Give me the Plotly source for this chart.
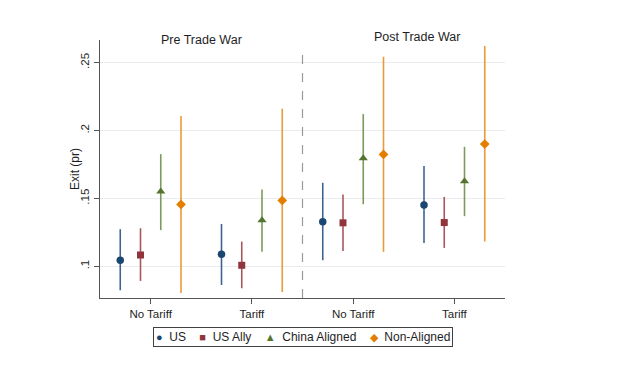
import plotly.graph_objects as go

categories = ["No Tariff", "Tariff", "No Tariff", "Tariff"]
group_pos = [1, 2, 3, 4]
series_names = ["US", "US Ally", "China Aligned", "Non-Aligned"]

# values per series across the 4 groups (Pre NoTariff, Pre Tariff, Post NoTariff, Post Tariff)
us_pt = [0.1044, 0.1088, 0.1327, 0.1452]
us_lo = [0.0823, 0.0862, 0.1044, 0.1172]
us_hi = [0.1273, 0.1312, 0.1615, 0.1738]

ally_pt = [0.1083, 0.1007, 0.1320, 0.1322]
ally_lo = [0.0892, 0.0838, 0.1113, 0.1135]
ally_hi = [0.1280, 0.1182, 0.1529, 0.1511]

china_pt = [0.1551, 0.1339, 0.1795, 0.1627]
china_lo = [0.1266, 0.1106, 0.1457, 0.1369]
china_hi = [0.1826, 0.1566, 0.2121, 0.1880]

nonal_pt = [0.1455, 0.1485, 0.1824, 0.1900]
nonal_lo = [0.0803, 0.0810, 0.1106, 0.1182]
nonal_hi = [0.2107, 0.2161, 0.2544, 0.2623]

offsets = [-0.3, -0.1, 0.1, 0.3]
marker_colors = ["#1a476f", "#90353b", "#55752f", "#e37e00"]
line_colors = ["#3d6491", "#a8575c", "#7c9a5c", "#eb9a3a"]
symbols = ["circle", "square", "triangle-up", "diamond"]
legend_glyphs = ["\u25CF", "\u25A0", "\u25B2", "\u25C6"]
sizes = [7.5, 7, 8, 7.5]

data = [(us_pt, us_lo, us_hi), (ally_pt, ally_lo, ally_hi),
        (china_pt, china_lo, china_hi), (nonal_pt, nonal_lo, nonal_hi)]

fig = go.Figure()
for i, (pt, lo, hi) in enumerate(data):
    xs = [g + offsets[i] for g in group_pos]
    fig.add_trace(go.Scatter(
        x=xs, y=pt, mode="markers", name=series_names[i], showlegend=False,
        marker=dict(symbol=symbols[i], size=sizes[i], color=marker_colors[i]),
        error_y=dict(type="data", symmetric=False,
                     array=[h - p for h, p in zip(hi, pt)],
                     arrayminus=[p - l for p, l in zip(pt, lo)],
                     width=0, thickness=1.6, color=line_colors[i]),
    ))

fig.add_shape(type="line", xref="x", yref="paper", x0=2.5, x1=2.5, y0=0, y1=0.96,
              line=dict(color="#9a9a9a", width=1.2, dash="dash"))

fig.add_annotation(text="Pre Trade War", xref="paper", yref="paper", x=0.25, y=1.0,
                   xanchor="center", yanchor="middle",
                   showarrow=False, font=dict(size=12.5, color="#1e1e1e"))
fig.add_annotation(text="Post Trade War", xref="paper", yref="paper", x=0.783, y=1.011,
                   xanchor="center", yanchor="middle",
                   showarrow=False, font=dict(size=12.5, color="#1e1e1e"))
fig.add_annotation(text="Exit (pr)", xref="paper", yref="paper", x=-0.0617, y=0.5,
                   xanchor="center", yanchor="middle", textangle=-90,
                   showarrow=False, font=dict(size=12, color="#1e1e1e"))

# legend built as a bordered text box
parts = []
for g, c, n in zip(legend_glyphs, marker_colors, series_names):
    parts.append(f"<span style='color:{c};font-size:11px'>{g}</span>&nbsp;&nbsp;{n}")
legend_text = "&nbsp;&nbsp;&nbsp;&nbsp;".join(parts)
fig.add_annotation(text=legend_text, xref="paper", yref="paper", x=0.5, y=-0.152,
                   xanchor="center", yanchor="middle", showarrow=False,
                   font=dict(size=12, color="#1e1e1e"),
                   bordercolor="#404040", borderwidth=1, borderpad=2, bgcolor="white")

fig.update_layout(
    width=616, height=358,
    margin=dict(l=92, r=119, t=32, b=68),
    paper_bgcolor="white", plot_bgcolor="white",
    font=dict(family="Liberation Sans, Arial, sans-serif", size=11.5, color="#1e1e1e"),
    showlegend=False,
    xaxis=dict(range=[0.5, 4.5], tickvals=group_pos, ticktext=categories, automargin=False,
               showgrid=False, zeroline=False, showline=True, linecolor="#555555",
               linewidth=1, ticks="outside", ticklen=5, tickcolor="#555555"),
    yaxis=dict(range=[0.0766, 0.2667], tickvals=[0.1, 0.15, 0.2, 0.25], automargin=False,
               ticktext=[".1", ".15", ".2", ".25"], tickangle=-90,
               showgrid=True, gridcolor="#e8ecef", gridwidth=1, zeroline=False,
               showline=True, linecolor="#555555", linewidth=1,
               ticks="outside", ticklen=5, tickcolor="#555555"),
)

fig.write_html("out.html")
